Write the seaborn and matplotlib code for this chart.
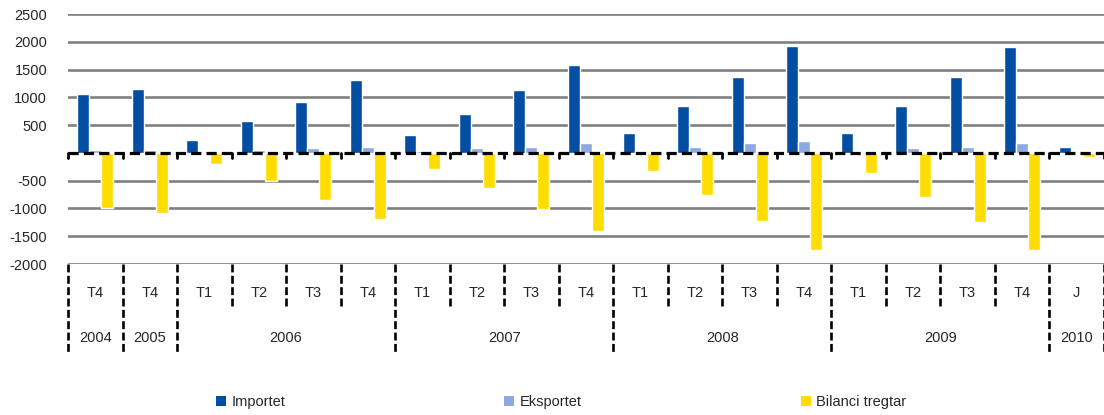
import matplotlib
matplotlib.use("Agg")
import matplotlib.pyplot as plt
from matplotlib.patches import Patch
import numpy as np
import pandas as pd
import seaborn as sns

# data
quarters = ["T4", "T4", "T1", "T2", "T3", "T4", "T1", "T2", "T3", "T4",
            "T1", "T2", "T3", "T4", "T1", "T2", "T3", "T4", "J"]
years = ["2004", "2005", "2006", "2006", "2006", "2006", "2007", "2007", "2007", "2007",
         "2008", "2008", "2008", "2008", "2009", "2009", "2009", "2009", "2010"]
importet = [1060, 1150, 230, 570, 910, 1310, 320, 700, 1130, 1590,
            350, 850, 1370, 1930, 355, 850, 1370, 1900, 110]
eksportet = [50, 50, 20, 50, 85, 108, 40, 85, 108, 175,
             40, 108, 175, 205, 15, 80, 108, 170, 10]
bilanci = [-1000, -1090, -200, -510, -850, -1190, -290, -630, -1010, -1400,
           -320, -760, -1220, -1740, -360, -790, -1240, -1740, -70]
series_names = ["Importet", "Eksportet", "Bilanci tregtar"]
colors = ["#034EA2", "#8EA9DF", "#FFDD00"]
yticks = [-2000, -1500, -1000, -500, 0, 500, 1000, 1500, 2000, 2500]

sns.set_theme(style="white")
plt.rcParams["font.family"] = ["Liberation Sans", "DejaVu Sans"]
plt.rcParams["font.size"] = 10.5

periods = [f"{y} {q}" for y, q in zip(years, quarters)]
df = pd.DataFrame({
    "period": periods * 3,
    "series": np.repeat(series_names, len(periods)),
    "value": importet + eksportet + bilanci,
})

fig = plt.figure(figsize=(11.04, 4.15), dpi=100)
ax = fig.add_axes([68 / 1104, 151 / 415, 1036 / 1104, 250 / 415])

sns.barplot(data=df, x="period", y="value", hue="series", order=periods,
            hue_order=series_names, palette=colors, width=0.66, gap=0,
            errorbar=None, saturation=1, legend=False, ax=ax)

n = len(periods)
ax.set_xlim(-0.5, n - 0.5)
ax.set_ylim(yticks[0], yticks[-1])
ax.set_yticks(yticks)
ax.set_yticklabels(["" if t == 0 else str(t) for t in yticks])
ax.set_xticks([])
ax.set_xlabel("")
ax.set_ylabel("")
ax.tick_params(axis="y", length=0, pad=15, labelsize=10.5)
for s in ax.spines.values():
    s.set_visible(False)

# gridlines
for t in yticks:
    if t != 0:
        ax.axhline(t, color="#808080", lw=1.9, zorder=0)
ax.axhline(0, color="black", lw=2.3, ls=(0, (3.2, 1.6)), zorder=5)
# small ticks under zero line at category borders
for b in np.arange(-0.5, n, 1.0):
    ax.plot([b, b], [0, -90], color="black", lw=2, zorder=5, clip_on=False)

# category axis below the plot
trans = ax.get_xaxis_transform()
year_edges = [0] + [i for i in range(1, n) if years[i] != years[i - 1]] + [n]
for i in range(n + 1):
    y_end = -0.352 if i in year_edges else -0.172
    ax.plot([i - 0.5, i - 0.5], [0, y_end], transform=trans, color="black",
            lw=1.9, ls=(0, (3, 1.3)), clip_on=False)
for i, q in enumerate(quarters):
    ax.text(i, -0.116, q, transform=trans, ha="center", va="center", fontsize=10.5)
for a, b in zip(year_edges[:-1], year_edges[1:]):
    ax.text((a + b - 1) / 2, -0.296, years[a], transform=trans,
            ha="center", va="center", fontsize=10.5)

# legend entries
leg_x = [216, 504, 801]
for name, c, x in zip(series_names, colors, leg_x):
    fig.legend(handles=[Patch(facecolor=c, edgecolor="none")], labels=[name],
               loc="center left", bbox_to_anchor=(x / 1104, 1 - 402 / 415),
               frameon=False, borderpad=0, borderaxespad=0, handlelength=0.7,
               handleheight=0.7, handletextpad=0.35, fontsize=10.5)

fig.savefig("out.png", dpi=100)
